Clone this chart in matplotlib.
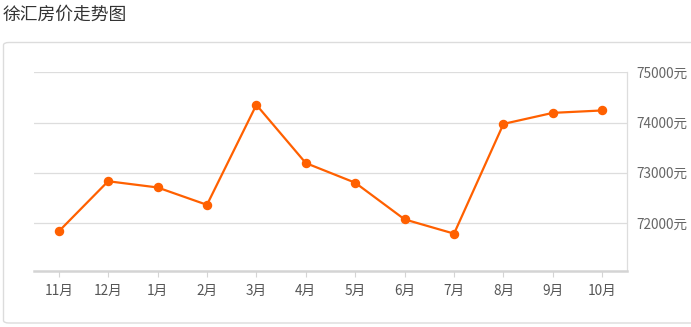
import matplotlib.pyplot as plt
from matplotlib.patches import FancyBboxPatch

plt.rcParams['font.family'] = ['Noto Sans CJK SC', 'DejaVu Sans']

months = ["11月", "12月", "1月", "2月", "3月", "4月", "5月", "6月", "7月", "8月", "9月", "10月"]
prices = [71830, 72830, 72706, 72360, 74352, 73192, 72800, 72070, 71786, 73972, 74192, 74240]
y_ticks = [72000, 73000, 74000, 75000]
y_labels = [f"{v}元" for v in y_ticks]

W, H = 691, 327
fig = plt.figure(figsize=(W / 100, H / 100), dpi=100)

# outer panel with rounded corners
panel = FancyBboxPatch((3.5 / W, 1 - 323 / H), (700 - 3.5) / W, (323 - 42.5) / H,
                       boxstyle="round,pad=0,rounding_size=0.008",
                       transform=fig.transFigure, fill=False,
                       edgecolor="#dcdcdc", linewidth=1.0, clip_on=False)
fig.patches.append(panel)

fig.text(3 / W, 1 - 15 / H, "徐汇房价走势图", fontsize=12.8, color="#333333",
         ha="left", va="center")

left, right, top, bottom = 34, 627, 72.3, 271.3
ax = fig.add_axes([left / W, 1 - bottom / H, (right - left) / W, (bottom - top) / H])

x = list(range(len(months)))
ax.plot(x, prices, color="#ff6000", linewidth=1.6, marker="o", markersize=5.8,
        zorder=3, clip_on=False)

ax.set_xlim(-0.5, 11.5)
ax.set_ylim(71036, 75000)
ax.set_xticks(x)
ax.set_xticklabels(months)
ax.yaxis.tick_right()
ax.set_yticks(y_ticks)
ax.set_yticklabels(y_labels)

for v in y_ticks:
    ax.axhline(v, color="#dddddd", linewidth=0.9, zorder=1)

for side in ["left", "top"]:
    ax.spines[side].set_visible(False)
ax.spines["right"].set_color("#dddddd")
ax.spines["right"].set_linewidth(0.9)
ax.spines["bottom"].set_color("#d4d4d4")
ax.spines["bottom"].set_linewidth(1.8)

ax.tick_params(axis="y", length=0, pad=7, labelsize=9.8, labelcolor="#666666")
ax.tick_params(axis="x", length=4, width=0.8, color="#d4d4d4", pad=5,
               labelsize=9.8, labelcolor="#555555")

fig.savefig("out.png", dpi=100)
